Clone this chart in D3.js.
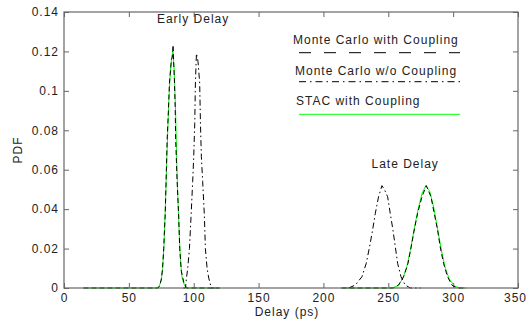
<!DOCTYPE html>
<html>
<head>
<meta charset="utf-8">
<script src="https://cdn.jsdelivr.net/npm/d3@7"></script>
<style>
  body { margin: 0; background: #fff; }
  svg { display: block; font-family: "Liberation Sans", Arial, sans-serif; }
  .tick text { font-size: 12px; letter-spacing: 1px; fill: #222; }
</style>
</head>
<body>
<div id="chart"></div>
<script>
// axis ticks
const xTicks = [0, 50, 100, 150, 200, 250, 300, 350];
const yTicks = [0, 0.02, 0.04, 0.06, 0.08, 0.1, 0.12, 0.14];

// [delay ps, pdf]
const mcCouplingEarly = [[15,0],[72.5,0],[73.5,0.001],[74.5,0.003],[75.2,0.005],[76,0.010],[76.9,0.020],[77.5,0.030],[78,0.037],[78.7,0.054],[79.5,0.075],[80.5,0.090],[81.3,0.104],[82.8,0.1157],[83.5,0.117],[84.1,0.1233],[84.5,0.115],[85.1,0.1055],[85.7,0.092],[86.1,0.075],[86.7,0.064],[87.2,0.054],[88.4,0.037],[89.2,0.020],[90.5,0.0083],[92.3,0.003],[94.4,0],[120,0]];
const mcCouplingLate = [[214,0],[254,0],[258,0.0015],[261.8,0.0057],[265.2,0.0125],[267.7,0.021],[270,0.0294],[272.6,0.0379],[276,0.0463],[279.3,0.0519],[282.9,0.0463],[285.4,0.0379],[288,0.0294],[290,0.021],[292.6,0.0125],[295.7,0.0057],[299,0.0015],[303,0],[310,0]];
const mcNoCouplingEarly = [[92,0],[93.6,0],[94.4,0.005],[95.4,0.010],[96.7,0.020],[98,0.037],[99.2,0.054],[100,0.0666],[100.8,0.0836],[101.3,0.104],[102.1,0.119],[103.3,0.115],[104.6,0.104],[105.2,0.0836],[105.9,0.0666],[106.9,0.054],[108.2,0.037],[109,0.020],[110.3,0.010],[111.6,0.005],[113.6,0],[116,0]];
const mcNoCouplingLate = [[219.4,0],[224.6,0.0015],[229.7,0.0057],[233,0.0125],[235.6,0.021],[237.9,0.0294],[240,0.0379],[242.5,0.0463],[245.1,0.0519],[247,0.050],[249.5,0.0463],[251.5,0.0379],[253.6,0.0294],[255.4,0.021],[257.2,0.0125],[259.8,0.0057],[263,0.0015],[267,0],[275,0]];
const stacEarly = [[15,0],[72,0],[73.5,0.001],[75,0.004],[76,0.010],[77,0.021],[78,0.038],[79,0.060],[80,0.080],[81,0.098],[82,0.110],[83,0.117],[84,0.120],[85,0.110],[86,0.090],[87,0.062],[88,0.042],[89,0.025],[90,0.012],[91,0.0055],[92.5,0.002],[94.5,0],[120,0]];
const stacLate = [[214,0],[253,0],[257,0.001],[261,0.0045],[264,0.010],[267,0.019],[270,0.030],[273,0.040],[276,0.048],[279,0.052],[282,0.049],[285,0.041],[288,0.030],[291,0.019],[294,0.010],[297,0.0045],[301,0.001],[305,0],[310,0]];

const legendLabels = ["Monte Carlo with Coupling", "Monte Carlo w/o Coupling", "STAC with Coupling"];
const annotations = [["Early Delay", 99.5, 0.1345], ["Late Delay", 263, 0.061]];

const W = 527, H = 320;
const m = {left: 64, top: 12, right: 9, bottom: 32};
const iw = W - m.left - m.right, ih = H - m.top - m.bottom;
const axisColor = "#666";

const svg = d3.select("#chart").append("svg")
  .attr("width", W).attr("height", H);
svg.append("rect").attr("width", W).attr("height", H).attr("fill", "#fff");

const g = svg.append("g").attr("transform", `translate(${m.left},${m.top})`);

const x = d3.scaleLinear().domain([0, 350]).range([0, iw]);
const y = d3.scaleLinear().domain([0, 0.14]).range([ih, 0]);

function styleAxis(sel) {
  sel.select(".domain").remove();
  sel.selectAll(".tick line").attr("stroke", axisColor);
}

const xAxisG = g.append("g").attr("transform", `translate(0,${ih})`)
  .call(d3.axisBottom(x).tickValues(xTicks).tickSize(-5).tickSizeOuter(0).tickPadding(5.5))
  .call(styleAxis);
// last label sits at the window edge; pull it in a little so it stays whole
xAxisG.selectAll(".tick text").filter(d => d === 350).attr("dx", -3).attr("letter-spacing", 0.5);
g.append("g")
  .call(d3.axisTop(x).tickValues(xTicks).tickSize(-5).tickSizeOuter(0).tickFormat(""))
  .call(styleAxis);
g.append("g")
  .call(d3.axisLeft(y).tickValues(yTicks).tickSize(-5).tickSizeOuter(0).tickPadding(5).tickFormat(d => d3.format("")(+d.toFixed(2))))
  .call(styleAxis);
g.append("g").attr("transform", `translate(${iw},0)`)
  .call(d3.axisRight(y).tickValues(yTicks).tickSize(-5).tickSizeOuter(0).tickFormat(""))
  .call(styleAxis);

g.selectAll(".tick text").attr("font-size", 12);

// curves
const line = d3.line().x(d => x(d[0])).y(d => y(d[1]));
const plot = g.append("g");
[stacEarly, stacLate].forEach(d => plot.append("path").attr("d", line(d))
  .attr("fill", "none").attr("stroke", "#00ff00").attr("stroke-width", 1));
[mcCouplingEarly, mcCouplingLate].forEach(d => plot.append("path").attr("d", line(d))
  .attr("fill", "none").attr("stroke", "#000").attr("stroke-width", 1).attr("stroke-dasharray", "5,3"));
[mcNoCouplingEarly, mcNoCouplingLate].forEach(d => plot.append("path").attr("d", line(d))
  .attr("fill", "none").attr("stroke", "#000").attr("stroke-width", 1).attr("stroke-dasharray", "6,3,1.5,3"));

// frame
g.append("rect").attr("width", iw).attr("height", ih)
  .attr("fill", "none").attr("stroke", axisColor).attr("stroke-width", 1.2);

// annotations
g.selectAll(".ann").data(annotations).enter().append("text")
  .attr("x", d => x(d[1])).attr("y", d => y(d[2]))
  .attr("text-anchor", "middle").attr("font-size", 12).attr("letter-spacing", 1)
  .attr("fill", "#222").text(d => d[0]);

// legend
const legendStyles = [
  {stroke: "#000", dash: "12,13"},
  {stroke: "#000", dash: "7,4,1.5,4"},
  {stroke: "#00ff00", dash: null}
];
const legendText = [[293, 43.5], [295, 74.5], [296, 104.5]];
const legendLine = [52.7, 81.7, 114.3];
legendLabels.forEach((lab, i) => {
  svg.append("text").attr("x", legendText[i][0]).attr("y", legendText[i][1])
    .attr("font-size", 12).attr("letter-spacing", 1).attr("fill", "#222").text(lab);
  svg.append("line").attr("x1", 299).attr("x2", 460)
    .attr("y1", legendLine[i]).attr("y2", legendLine[i])
    .attr("stroke", legendStyles[i].stroke).attr("stroke-width", 1)
    .attr("stroke-dasharray", legendStyles[i].dash);
});

// axis titles
svg.append("text").attr("x", m.left + iw / 2 - 4).attr("y", 316)
  .attr("text-anchor", "middle").attr("font-size", 12).attr("letter-spacing", 1)
  .attr("fill", "#222").text("Delay (ps)");
svg.append("text").attr("transform", `translate(22,${m.top + ih / 2}) rotate(-90)`)
  .attr("text-anchor", "middle").attr("font-size", 12).attr("letter-spacing", 1)
  .attr("fill", "#222").text("PDF");
</script>
</body>
</html>
